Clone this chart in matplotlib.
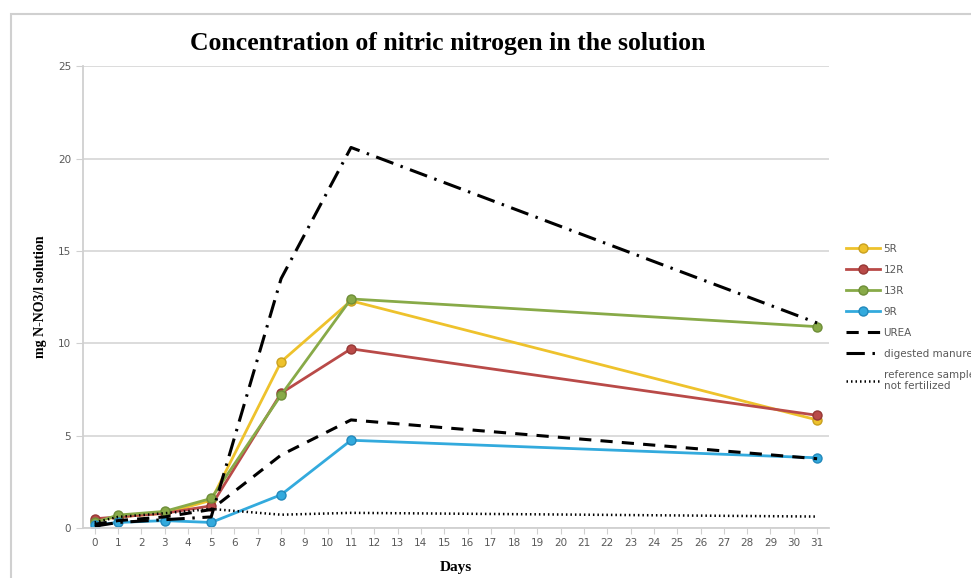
import matplotlib.pyplot as plt
from matplotlib.patches import Rectangle

# Sampling days and measured concentrations (mg N-NO3/l)
days = [0, 1, 3, 5, 8, 11, 31]
r5 = [0.4, 0.6, 0.8, 1.5, 9.0, 12.3, 5.85]
r12 = [0.5, 0.6, 0.8, 1.2, 7.3, 9.7, 6.1]
r13 = [0.3, 0.7, 0.9, 1.6, 7.2, 12.4, 10.9]
r9 = [0.15, 0.3, 0.4, 0.3, 1.8, 4.75, 3.8]
urea = [0.2, 0.4, 0.6, 1.0, 3.95, 5.85, 3.75]
manure = [0.1, 0.3, 0.45, 0.6, 13.5, 20.6, 11.1]
reference = [0.3, 0.6, 0.8, 1.03, 0.72, 0.82, 0.62]
x_ticks = list(range(0, 32))
y_ticks = [0, 5, 10, 15, 20, 25]

fig = plt.figure(figsize=(9.71, 5.78), dpi=100)
ax = fig.add_axes([0.0855, 0.0865, 0.768, 0.799])

# light frame around the chart
fig.patches.append(Rectangle((0.0113, -0.05), 1.2, 1.0258, transform=fig.transFigure,
                             fill=False, edgecolor='#d0d0d0', linewidth=1.5))

mk = dict(marker='o', markersize=6.5, linewidth=2)
ax.plot(days, r5, color='#EEC22C', markeredgecolor='#C9A020', label='5R', **mk)
ax.plot(days, r12, color='#B94A48', markeredgecolor='#963835', label='12R', **mk)
ax.plot(days, r13, color='#88AA48', markeredgecolor='#6E8E38', label='13R', **mk)
ax.plot(days, r9, color='#33AADD', markeredgecolor='#2288BB', label='9R', **mk)
ax.plot(days, urea, color='black', linewidth=2.2, dashes=(4, 3), label='UREA')
ax.plot(days, manure, color='black', linewidth=2.2, dashes=(6, 2.5, 0.8, 2.5),
        label='digested manure')
ax.plot(days, reference, color='black', linewidth=1.8, linestyle=(0, (0.6, 1.2)),
        label='reference sample\nnot fertilized')

ax.set_xlim(-0.5, 31.5)
ax.set_ylim(0, 25)
ax.set_xticks(x_ticks)
ax.set_yticks(y_ticks)
ax.grid(axis='y', color='#d9d9d9', linewidth=1.3)
ax.set_axisbelow(True)
for s in ['top', 'right']:
    ax.spines[s].set_visible(False)
for s in ['left', 'bottom']:
    ax.spines[s].set_color('#d0d0d0')
    ax.spines[s].set_linewidth(1.3)
ax.tick_params(axis='both', colors='#d0d0d0', labelcolor='#595959', labelsize=7.5, length=4)
ax.tick_params(axis='y', length=5)

ax.set_title('Concentration of nitric nitrogen in the solution', fontfamily='Liberation Serif',
             fontweight='bold', fontsize=18.5, pad=12, x=0.489)
ax.set_xlabel('Days', fontfamily='Liberation Serif', fontweight='bold', fontsize=11, labelpad=9)
ax.set_ylabel('mg N-NO3/l solution', fontfamily='Liberation Serif', fontweight='bold',
              fontsize=10, labelpad=8)

leg = ax.legend(loc='upper left', bbox_to_anchor=(0.867, 0.585), bbox_transform=fig.transFigure,
                frameon=False, fontsize=7.5, handlelength=3.3, handletextpad=0.3,
                labelspacing=1.05, borderaxespad=0)
for t in leg.get_texts():
    t.set_color('#595959')

fig.savefig('out.png', dpi=100)
